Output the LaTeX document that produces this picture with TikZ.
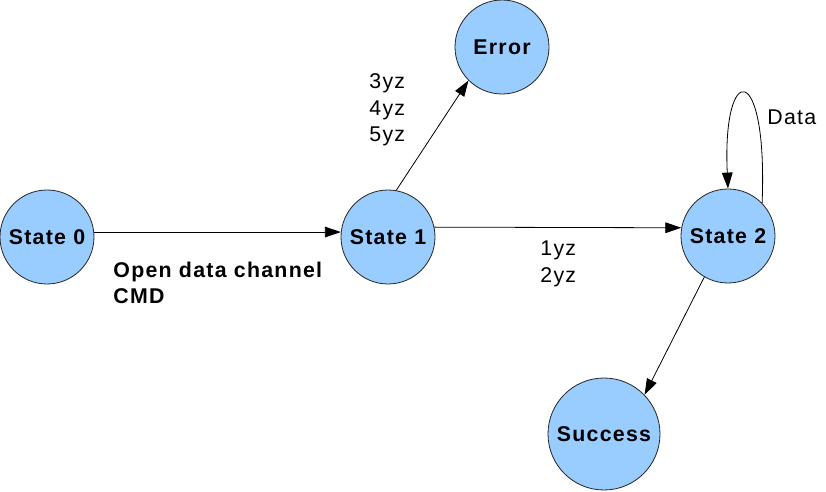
\documentclass[tikz,border=0pt]{standalone}
\usepackage{fontspec}
\setmainfont{Liberation Sans}[LetterSpace=6]
\usetikzlibrary{arrows.meta}
\definecolor{stateFill}{HTML}{99CCFF}
\colorlet{penColor}{black!85}
\tikzset{>={Triangle[length=12pt,width=8pt]}}
\tikzset{state/.style={circle,draw=penColor,fill=stateFill,line width=0.6pt,inner sep=0pt,minimum size=70.5pt,font=\fontsize{16}{20}\selectfont\bfseries}}
\tikzset{lbl/.style={align=left,inner sep=0pt,font=\fontsize{16}{20}\selectfont}}

\begin{document}
\begin{tikzpicture}[x=0.75pt,y=-0.75pt,line width=0.6pt]
				\useasboundingbox (0,0) rectangle (826,492);
				\node [state] (s0) at (47,237) {State 0};
				\node [state] (s1) at (388,237) {State 1};
				\node [state] (s2) at (728,236) {State 2};
				\node [state] (err) at (502,47) {Error};
				\node [state,minimum size=84pt] (ok) at (604,434) {Success};
				\draw[->] (s0.6) -- (s1.174);
				\draw[->] (s1.12) -- (s2.170);
				\draw[->] (s1.80) -- (err.225);
				\draw[->] (s2.240) -- (ok.44);
				\draw[->] (s2.44) .. controls (768,60) and (722,60) .. (s2.north);
				
				\node [lbl,anchor=west,font=\fontsize{16}{20}\selectfont\bfseries] (cmd) at (113,283) {Open data channel\\CMD};
				\node [lbl,anchor=west] (bad) at (369,110) {3yz\\4yz\\5yz};
				\node [lbl,anchor=west] (good) at (540,264) {1yz\\2yz};
				\node [lbl,anchor=west] (data) at (767,117) {Data};
				\end{tikzpicture}
\end{document}
